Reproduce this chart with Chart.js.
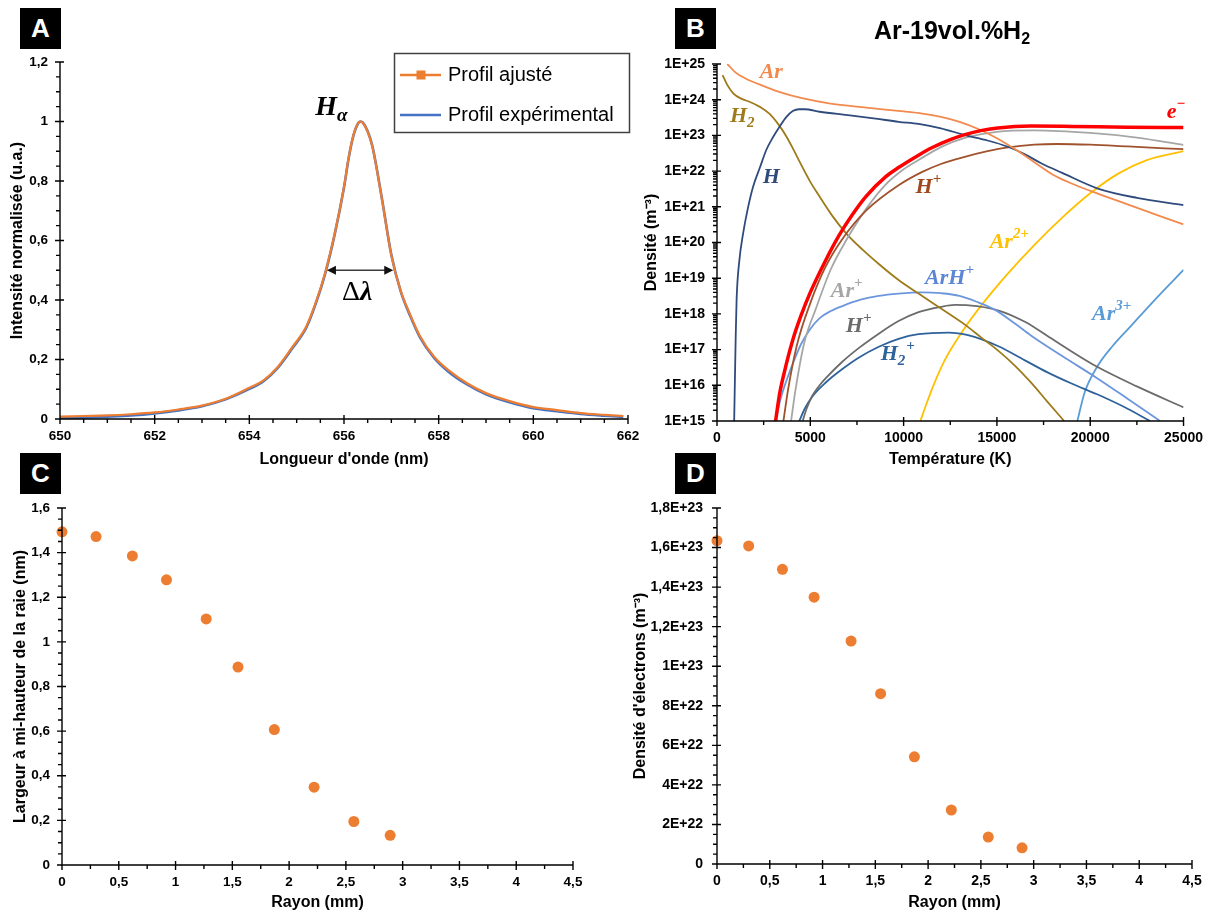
<!DOCTYPE html>
<html><head><meta charset="utf-8">
<script src="https://cdn.jsdelivr.net/npm/chart.js@4.4.1/dist/chart.umd.min.js"></script>
<style>
html,body{margin:0;padding:0;background:#fff;}
body{width:1212px;height:912px;position:relative;overflow:hidden;}
canvas{position:absolute;}
.tag{position:absolute;width:41px;height:41px;background:#000;color:#fff;font:bold 26px "Liberation Sans",Arial,sans-serif;line-height:41px;text-align:center;}
#titleB{position:absolute;left:832px;width:240px;top:18px;text-align:center;font:bold 25px "Liberation Sans",Arial,sans-serif;color:#000;line-height:25px;white-space:nowrap}
#titleB sub{font-size:16px;vertical-align:-5px;line-height:0}
</style></head>
<body>
<canvas id="cA" width="650" height="470" style="left:0;top:0"></canvas>
<canvas id="cB" width="582" height="470" style="left:630px;top:0"></canvas>
<canvas id="cC" width="650" height="442" style="left:0;top:470px"></canvas>
<canvas id="cD" width="582" height="442" style="left:630px;top:470px"></canvas>
<div class="tag" style="left:20px;top:8px">A</div>
<div class="tag" style="left:675px;top:8px">B</div>
<div class="tag" style="left:20px;top:453px">C</div>
<div class="tag" style="left:675px;top:453px">D</div>
<div id="titleB">Ar-19vol.%H<sub>2</sub></div>
<script>
// ---------- Panel A data ----------
const wavelength = [650,650.5,651,651.5,652,652.5,653,653.5,654,654.3,654.6,654.9,655.2,655.4,655.6,655.8,656,656.1,656.2,656.3,656.35,656.4,656.5,656.6,656.8,657,657.2,657.4,657.6,657.9,658.2,658.6,659,659.5,660,660.5,661,661.5,661.9];
const profilAjuste = [0.008,0.010,0.012,0.016,0.022,0.032,0.045,0.068,0.105,0.130,0.175,0.240,0.310,0.390,0.490,0.620,0.780,0.880,0.955,0.995,1.000,0.995,0.965,0.915,0.740,0.550,0.430,0.350,0.280,0.210,0.165,0.120,0.087,0.060,0.040,0.030,0.020,0.014,0.010];
const profilExperimental = [0.003,0.005,0.008,0.012,0.019,0.029,0.043,0.066,0.101,0.127,0.172,0.236,0.306,0.386,0.487,0.618,0.778,0.878,0.953,0.994,1.000,0.996,0.967,0.917,0.742,0.552,0.428,0.346,0.276,0.206,0.160,0.116,0.083,0.056,0.036,0.026,0.017,0.011,0.007];
const fwhmArrow = [655.64, 657.04];
const halfMax = 0.5;

// ---------- Panel B data (temperature K, density m^-3) ----------
const T_Ar = [550,1000,1500,2500,3500,4500,6000,8000,10000,11000,12000,13000,14000,15000,16000,17000,18000,19000,20000,22000,25000];
const n_Ar = [1.0e25,5.75e24,4.0e24,2.4e24,1.55e24,1.12e24,7.9e23,6.0e23,4.7e23,4.1e23,3.3e23,2.4e23,1.51e23,8.3e22,4.0e22,1.78e22,7.9e21,4.5e21,2.8e21,1.17e21,3.2e20];
const T_H2 = [300,550,870,1300,1800,2300,2820,3300,3710,4100,4410,5000,5480,6200,6930,7800,8670,9730,10800,12000,13280,14200,15050,16000,16820,17700,18600];
const n_H2 = [4.9e24,2.6e24,1.51e24,1.07e24,8.5e23,6.3e23,4.0e23,2.0e23,9.5e22,4.0e22,1.9e22,5.0e21,2.0e21,5.4e20,1.78e20,6.3e19,2.5e19,8.9e18,3.7e18,1.41e18,5.0e17,2.1e17,9.5e16,3.4e16,1.2e16,3.5e15,1.0e15];
const T_H = [920,1000,1050,1200,1400,1650,1930,2300,2640,3000,3350,3700,4060,4400,4700,5500,7000,8500,9730,10800,12000,13280,14500,15590,16500,17370,18500,20370,22500,25000];
const n_H = [1.0e15,2.0e17,2.5e18,3.2e19,1.8e20,8.9e20,3.6e21,1.26e22,3.9e22,8.9e22,1.74e23,3.2e23,4.8e23,5.4e23,5.4e23,4.6e23,3.7e23,2.95e23,2.4e23,2.1e23,1.58e23,1.02e23,7.2e22,4.8e22,2.95e22,1.66e22,8.9e21,3.3e21,1.78e21,1.12e21];
const T_e = [3140,3350,3600,4060,4500,5000,5800,6540,7250,8000,9030,9730,10800,11510,12500,13280,14200,15050,16820,19000,22000,25000];
const n_e = [1.0e15,5.6e15,2.24e16,1.86e17,8.9e17,4.0e18,3.0e19,1.58e20,6.0e20,2.0e21,6.9e21,1.26e22,2.8e22,4.5e22,7.6e22,1.05e23,1.38e23,1.62e23,1.82e23,1.78e23,1.70e23,1.66e23];
const T_Hp = [3560,3800,4270,5000,5800,6720,8000,9730,11000,12000,13280,14500,15590,17000,18240,20000,22000,25000];
const n_Hp = [1.0e15,7.1e15,1.26e17,2.0e18,2.0e19,1.26e20,7.9e20,4.0e21,9.5e21,1.58e22,2.5e22,3.6e22,4.6e22,5.5e22,5.75e22,5.5e22,4.9e22,4.1e22];
const T_Arp = [3970,4200,4680,5300,6100,6930,8000,9000,10000,10800,12000,13280,15000,17000,20000,22500,25000];
const n_Arp = [1.0e15,7.1e15,1.58e17,1.41e18,1.78e19,1.17e20,8.9e20,4.0e21,1.12e22,2.04e22,4.7e22,8.5e22,1.26e23,1.38e23,1.17e23,8.7e22,5.4e22];
const T_ArHp = [3140,3400,3700,4060,4500,4950,5500,6100,6720,7700,8670,9730,11000,12000,13000,14000,14880,16000,16820,18500,20370,22000,23740];
const n_ArHp = [1.0e15,4.0e15,1.26e16,4.0e16,1.41e17,3.5e17,7.6e17,1.2e18,1.66e18,2.5e18,3.2e18,3.7e18,4.0e18,3.8e18,3.2e18,2.1e18,1.32e18,5.2e17,2.5e17,6.6e16,1.58e16,4.2e15,1.0e15];
const T_Hp2 = [4590,4800,5100,5500,5830,6700,7610,8670,9730,10800,12000,12750,13500,15050,16500,17710,19000,20370,22500,25000];
const n_Hp2 = [1.0e15,2.2e15,5.0e15,1.0e16,1.58e16,4.5e16,1.12e17,2.8e17,6.3e17,1.12e18,1.58e18,1.78e18,1.74e18,1.26e18,6.0e17,2.4e17,8.9e16,3.3e16,9.3e15,2.4e15];
const T_H2p = [4410,4700,5100,5830,6700,7610,8670,9730,10800,12400,13500,15050,16500,17710,19000,20370,21800,23210];
const n_H2p = [1.0e15,2.2e15,4.8e15,1.2e16,2.8e16,6.0e16,1.2e17,2.0e17,2.7e17,3.0e17,2.5e17,1.26e17,5.0e16,2.3e16,1.12e16,5.6e15,2.5e15,1.0e15];
const T_Ar2p = [10900,11200,11600,12200,13190,14260,15500,17000,18500,20000,21500,23000,25000];
const n_Ar2p = [1.0e15,2.8e15,1.0e16,5.0e16,3.5e17,2.0e18,1.2e19,8.5e19,5.0e20,2.4e21,8.5e21,2.0e22,3.6e22];
const T_Ar3p = [19310,19700,20370,21200,22150,23500,25000];
const n_Ar3p = [1.0e15,6.3e15,3.3e16,1.26e17,4.4e17,2.6e18,1.7e19];
const densityTicks = [1e15,1e16,1e17,1e18,1e19,1e20,1e21,1e22,1e23,1e24,1e25];

// ---------- Panels C and D data ----------
const rayon = [0,0.3,0.62,0.92,1.27,1.55,1.87,2.22,2.57,2.89];
const largeurMiHauteur = [1.493,1.472,1.385,1.278,1.103,0.887,0.607,0.349,0.195,0.133];
const densiteElectrons = [1.635e23,1.608e23,1.49e23,1.349e23,1.127e23,8.61e22,5.42e22,2.73e22,1.36e22,8.2e21];

// ---------- helpers ----------
const FAM = '"Liberation Sans", Arial, sans-serif';
const SERIF = '"Liberation Serif", "DejaVu Serif", serif';
const tickFont = s => ({family: FAM, size: s, weight: 'bold'});
const titleFont = {family: FAM, size: 16, weight: 'bold'};
const pts = (xs, ys) => xs.map((x, i) => ({x, y: ys[i]}));
const comma = v => String(Math.round(v * 1000) / 1000).replace('.', ',');
const sciComma = v => {
  if (v === 0) return '0';
  const e = Math.floor(Math.log10(v) + 1e-9);
  const m = Math.round(v / Math.pow(10, e) * 10) / 10;
  return String(m).replace('.', ',') + 'E+' + e;
};
function steps(min, max, step) { const a = []; const n = Math.round((max - min) / step); for (let i = 0; i <= n; i++) a.push(min + i * step); return a; }
function logMinor(d0, d1) { const a = []; for (let d = d0; d < d1; d++) for (let k = 2; k <= 9; k++) a.push(k * Math.pow(10, d)); return a; }

function axesPlugin(xMinor, yMinor, extra) {
  return {
    id: 'axesDeco',
    afterDraw(chart) {
      const {ctx, chartArea: ca} = chart;
      const x = chart.scales.x, y = chart.scales.y;
      ctx.save();
      ctx.strokeStyle = '#000';
      ctx.lineWidth = 1.4;
      ctx.beginPath();
      ctx.moveTo(ca.left, ca.top); ctx.lineTo(ca.left, ca.bottom); ctx.lineTo(ca.right, ca.bottom);
      for (const t of x.ticks) { const p = x.getPixelForValue(t.value); ctx.moveTo(p, ca.bottom - 4); ctx.lineTo(p, ca.bottom + 5); }
      for (const v of xMinor) { const p = x.getPixelForValue(v); ctx.moveTo(p, ca.bottom); ctx.lineTo(p, ca.bottom + 4); }
      for (const t of y.ticks) { const p = y.getPixelForValue(t.value); ctx.moveTo(ca.left - 5, p); ctx.lineTo(ca.left + 4, p); }
      for (const v of yMinor) { const p = y.getPixelForValue(v); ctx.moveTo(ca.left - 4, p); ctx.lineTo(ca.left, p); }
      ctx.stroke();
      ctx.restore();
      if (extra) extra(chart);
    }
  };
}

function mathLabel(ctx, x, y, parts, color, size) {
  ctx.save();
  ctx.fillStyle = color;
  ctx.textBaseline = 'alphabetic';
  ctx.textAlign = 'left';
  let cx = x;
  for (const p of parts) {
    const small = p.sup || p.sub;
    const s = small ? size * 0.68 : size;
    ctx.font = `italic bold ${s}px ${SERIF}`;
    const dy = p.sup ? -size * 0.45 : (p.sub ? size * 0.22 : 0);
    ctx.fillText(p.t, cx, y + dy);
    cx += ctx.measureText(p.t).width + (small ? 1 : 0);
  }
  ctx.restore();
}

function scaleCfg(o) {
  return {
    type: o.type || 'linear',
    min: o.min, max: o.max,
    grid: {display: false, drawTicks: false},
    border: {display: false},
    ticks: Object.assign({font: tickFont(o.fs || 13.5), color: '#000', padding: o.pad, autoSkip: false, maxRotation: 0, callback: o.fmt}, o.step ? {stepSize: o.step} : {}),
    title: {display: true, text: o.title, font: titleFont, color: '#000', padding: o.titlePad},
    afterFit: o.fit,
    afterBuildTicks: o.abt
  };
}

// ---------- Chart A ----------
new Chart(document.getElementById('cA'), {
  type: 'line',
  data: {datasets: [
    {label: 'Profil ajusté', data: pts(wavelength, profilAjuste), borderColor: '#ED7D31', borderWidth: 2.2, pointRadius: 0, cubicInterpolationMode: 'monotone'},
    {label: 'Profil expérimental', data: pts(wavelength, profilExperimental), borderColor: '#4472C4', borderWidth: 2.6, pointRadius: 0, cubicInterpolationMode: 'monotone'}
  ]},
  options: {
    responsive: false, animation: false, devicePixelRatio: 1,
    layout: {padding: {top: 62, right: 22, left: 0, bottom: 0}},
    plugins: {legend: {display: false}, tooltip: {enabled: false}},
    scales: {
      x: scaleCfg({min: 650, max: 662, step: 2, pad: 9, fmt: v => comma(v), title: "Longueur d'onde (nm)", titlePad: {top: 0, bottom: 0.4}, fit: s => { s.height = 51; }}),
      y: scaleCfg({min: 0, max: 1.2, step: 0.2, pad: 12, fmt: v => comma(v), title: 'Intensité normalisée (u.a.)', titlePad: {top: 8.4, bottom: 0}, fit: s => { s.width = 60; }})
    }
  },
  plugins: [axesPlugin(steps(650, 662, 0.5), steps(0, 1.2, 0.05), chart => {
    const {ctx} = chart; const x = chart.scales.x, y = chart.scales.y;
    const x1 = x.getPixelForValue(fwhmArrow[0]), x2 = x.getPixelForValue(fwhmArrow[1]), yy = y.getPixelForValue(halfMax);
    ctx.save();
    ctx.strokeStyle = '#3a3a3a'; ctx.fillStyle = '#111'; ctx.lineWidth = 1.5;
    ctx.beginPath(); ctx.moveTo(x1 + 6, yy); ctx.lineTo(x2 - 6, yy); ctx.stroke();
    ctx.beginPath(); ctx.moveTo(x1, yy); ctx.lineTo(x1 + 9, yy - 4.5); ctx.lineTo(x1 + 9, yy + 4.5); ctx.closePath(); ctx.fill();
    ctx.beginPath(); ctx.moveTo(x2, yy); ctx.lineTo(x2 - 9, yy - 4.5); ctx.lineTo(x2 - 9, yy + 4.5); ctx.closePath(); ctx.fill();
    ctx.restore();
    mathLabel(ctx, x.getPixelForValue(655.39), y.getPixelForValue(1.022), [{t: 'H'}, {t: 'α', sub: true}], '#000', 28);
    ctx.save(); ctx.fillStyle = '#000'; ctx.textBaseline = 'alphabetic';
    const dx = x.getPixelForValue(655.96), dy = y.getPixelForValue(0.40);
    ctx.font = `28px ${SERIF}`; ctx.fillText('Δ', dx, dy);
    const w = ctx.measureText('Δ').width;
    ctx.font = `italic bold 28px ${SERIF}`; ctx.fillText('λ', dx + w, dy);
    ctx.restore();
    ctx.save();
    ctx.strokeStyle = '#404040'; ctx.lineWidth = 1.5;
    ctx.strokeRect(394.5, 53.5, 235, 79);
    ctx.strokeStyle = '#ED7D31'; ctx.lineWidth = 2.5;
    ctx.beginPath(); ctx.moveTo(400, 75); ctx.lineTo(441, 75); ctx.stroke();
    ctx.fillStyle = '#ED7D31'; ctx.fillRect(416.5, 70.5, 9, 9);
    ctx.strokeStyle = '#4472C4';
    ctx.beginPath(); ctx.moveTo(400, 115); ctx.lineTo(441, 115); ctx.stroke();
    ctx.fillStyle = '#000'; ctx.font = `20px ${FAM}`; ctx.textBaseline = 'alphabetic';
    ctx.fillText('Profil ajusté', 448, 81);
    ctx.fillText('Profil expérimental', 448, 121);
    ctx.restore();
  })]
});

// ---------- Chart B ----------
const speciesLabels = [
  {parts: [{t: 'Ar'}], T: 2287, n: 4.1e24, color: '#F28A4E'},
  {parts: [{t: 'H'}, {t: '2', sub: true}], T: 690, n: 2.4e23, color: '#9E7B1A'},
  {parts: [{t: 'H'}], T: 2447, n: 4.7e21, color: '#2F4B7C'},
  {parts: [{t: 'e'}, {t: '−', sup: true}], T: 24100, n: 3.1e23, color: '#FF0000'},
  {parts: [{t: 'H'}, {t: '+', sup: true}], T: 10638, n: 2.45e21, color: '#9C4A1E'},
  {parts: [{t: 'Ar'}, {t: '2+', sup: true}], T: 14610, n: 7.1e19, color: '#FFC000'},
  {parts: [{t: 'ArH'}, {t: '+', sup: true}], T: 11150, n: 6.9e18, color: '#5B86D6'},
  {parts: [{t: 'Ar'}, {t: '+', sup: true}], T: 6100, n: 2.95e18, color: '#A6A6A6'},
  {parts: [{t: 'H'}, {t: '+', sup: true}], T: 6900, n: 3.1e17, color: '#6B6B6B'},
  {parts: [{t: 'H'}, {t: '2', sub: true}, {t: '+', sup: true}], T: 8770, n: 5.1e16, color: '#2E629A'},
  {parts: [{t: 'Ar'}, {t: '3+', sup: true}], T: 20100, n: 6.8e17, color: '#5B9BD5'}
];
const lineDs = (label, xs, ys, color, w) => ({label, data: pts(xs, ys), borderColor: color, borderWidth: w || 1.8, pointRadius: 0, cubicInterpolationMode: 'monotone', fill: false});
new Chart(document.getElementById('cB'), {
  type: 'line',
  data: {datasets: [
    lineDs('e-', T_e, n_e, '#FF0000', 3.5),
    lineDs('Ar', T_Ar, n_Ar, '#F28A4E'),
    lineDs('H', T_H, n_H, '#2F4B7C'),
    lineDs('H+', T_Hp, n_Hp, '#A0522D'),
    lineDs('Ar+', T_Arp, n_Arp, '#A6A6A6'),
    lineDs('H2', T_H2, n_H2, '#9E7B1A'),
    lineDs('ArH+', T_ArHp, n_ArHp, '#6D97DD'),
    lineDs('H+ (2)', T_Hp2, n_Hp2, '#6B6B6B'),
    lineDs('H2+', T_H2p, n_H2p, '#2E629A'),
    lineDs('Ar2+', T_Ar2p, n_Ar2p, '#FFC000'),
    lineDs('Ar3+', T_Ar3p, n_Ar3p, '#5B9BD5')
  ]},
  options: {
    responsive: false, animation: false, devicePixelRatio: 1,
    layout: {padding: {top: 64, right: 25, left: 0, bottom: 0}},
    plugins: {legend: {display: false}, tooltip: {enabled: false}},
    scales: {
      x: scaleCfg({min: 0, max: 25000, step: 5000, pad: 9, fs: 14, fmt: v => String(v), title: 'Température (K)', titlePad: {top: 0, bottom: 0.4}, fit: s => { s.height = 49; }}),
      y: scaleCfg({type: 'logarithmic', min: 1e15, max: 1e25, pad: 12, fs: 14, fmt: v => '1E+' + Math.round(Math.log10(v)), title: 'Densité (m⁻³)', titlePad: {top: 12.4, bottom: 0}, fit: s => { s.width = 87; },
        abt: s => { s.ticks = densityTicks.map(v => ({value: v})); }})
    }
  },
  plugins: [axesPlugin(steps(0, 25000, 2500), logMinor(15, 25), chart => {
    const {ctx} = chart; const x = chart.scales.x, y = chart.scales.y;
    for (const L of speciesLabels) mathLabel(ctx, x.getPixelForValue(L.T), y.getPixelForValue(L.n), L.parts, L.color, 22);
  })]
});

// ---------- Chart C ----------
new Chart(document.getElementById('cC'), {
  type: 'scatter',
  data: {datasets: [{label: 'Largeur', data: pts(rayon, largeurMiHauteur), backgroundColor: '#ED7D31', borderWidth: 0, pointRadius: 5.5, clip: false}]},
  options: {
    responsive: false, animation: false, devicePixelRatio: 1,
    layout: {padding: {top: 38, right: 77, left: 0, bottom: 0}},
    plugins: {legend: {display: false}, tooltip: {enabled: false}},
    scales: {
      x: scaleCfg({min: 0, max: 4.5, step: 0.5, pad: 9, fmt: v => comma(v), title: 'Rayon (mm)', titlePad: {top: 0, bottom: 0}, fit: s => { s.height = 47; }}),
      y: scaleCfg({min: 0, max: 1.6, step: 0.2, pad: 12, fmt: v => comma(v), title: 'Largeur à mi-hauteur de la raie (nm)', titlePad: {top: 11.4, bottom: 0}, fit: s => { s.width = 62; }})
    }
  },
  plugins: [axesPlugin(steps(0, 4.5, 0.25), steps(0, 1.6, 0.05))]
});

// ---------- Chart D ----------
new Chart(document.getElementById('cD'), {
  type: 'scatter',
  data: {datasets: [{label: 'ne', data: pts(rayon, densiteElectrons), backgroundColor: '#ED7D31', borderWidth: 0, pointRadius: 5.5, clip: false}]},
  options: {
    responsive: false, animation: false, devicePixelRatio: 1,
    layout: {padding: {top: 38, right: 20, left: 0, bottom: 0}},
    plugins: {legend: {display: false}, tooltip: {enabled: false}},
    scales: {
      x: scaleCfg({min: 0, max: 4.5, step: 0.5, pad: 9, fs: 14, fmt: v => comma(v), title: 'Rayon (mm)', titlePad: {top: 0, bottom: 0}, fit: s => { s.height = 48; }}),
      y: scaleCfg({min: 0, max: 1.8e23, step: 2e22, pad: 14, fs: 14, fmt: v => sciComma(v), title: "Densité d'électrons (m⁻³)", titlePad: {top: 1.4, bottom: 0}, fit: s => { s.width = 87; }})
    }
  },
  plugins: [axesPlugin(steps(0, 4.5, 0.25), steps(0, 1.8e23, 5e21))]
});
</script>
</body></html>
